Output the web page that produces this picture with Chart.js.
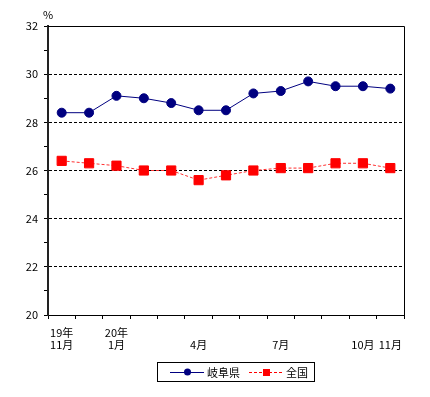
<!DOCTYPE html>
<html>
<head>
<meta charset="utf-8">
<title>岐阜県・全国</title>
<style>
    html, body {
        margin: 0;
        padding: 0;
        background: #fff;
    }
    #wrap {
        width: 430px;
        height: 397px;
        position: relative;
    }
</style>
<script src="https://cdn.jsdelivr.net/npm/chart.js"></script>
</head>
<body>
<div id="wrap"><canvas id="rateChart"></canvas></div>

<script>
    // data
    const months = [['19年', '11月'], '', ['20年', '1月'], '', '', ['', '4月'], '', '', ['', '7月'], '', '', ['', '10月'], ['', '11月']];
    const gifu = [28.4, 28.4, 29.1, 29.0, 28.8, 28.5, 28.5, 29.2, 29.3, 29.7, 29.5, 29.5, 29.4];
    const zenkoku = [26.4, 26.3, 26.2, 26.0, 26.0, 25.6, 25.8, 26.0, 26.1, 26.1, 26.3, 26.3, 26.1];
    const seriesNames = ['岐阜県', '全国'];
    const unitLabel = '%';
    const yMin = 20, yMax = 32;

    const FONT = '"Noto Sans CJK JP", "DejaVu Sans", sans-serif';
    Chart.defaults.font.family = FONT;
    Chart.defaults.font.size = 11;
    Chart.defaults.color = '#000';

    // top/right frame, unit label and the boxed legend
    const decor = {
        id: 'decor',
        afterDraw(chart) {
            const ctx = chart.ctx;
            const a = chart.chartArea;
            ctx.save();
            ctx.strokeStyle = '#000';
            ctx.lineWidth = 1;
            ctx.beginPath();
            ctx.moveTo(a.left, a.top + 0.5);
            ctx.lineTo(a.right + 0.5, a.top + 0.5);
            ctx.lineTo(a.right + 0.5, a.bottom);
            ctx.stroke();

            ctx.font = '11px ' + FONT;
            ctx.fillStyle = '#000';
            ctx.textAlign = 'center';
            ctx.textBaseline = 'middle';
            ctx.fillText(unitLabel, 48, 15);

            // legend
            ctx.strokeRect(157.5, 362.5, 157, 19);
            const cy = 372;
            // 岐阜県
            ctx.strokeStyle = '#000080';
            ctx.beginPath();
            ctx.moveTo(170, cy + 0.5);
            ctx.lineTo(204, cy + 0.5);
            ctx.stroke();
            ctx.fillStyle = '#000080';
            ctx.beginPath();
            ctx.arc(187.5, cy, 3.5, 0, Math.PI * 2);
            ctx.fill();
            // 全国
            ctx.strokeStyle = '#ff0000';
            ctx.setLineDash([3, 2]);
            ctx.beginPath();
            ctx.moveTo(249, cy + 0.5);
            ctx.lineTo(284, cy + 0.5);
            ctx.stroke();
            ctx.setLineDash([]);
            ctx.fillStyle = '#ff0000';
            ctx.fillRect(263, cy - 3, 7, 7);

            ctx.fillStyle = '#000';
            ctx.textAlign = 'left';
            ctx.fillText(seriesNames[0], 207, cy + 1);
            ctx.fillText(seriesNames[1], 286, cy + 1);
            ctx.restore();
        }
    };

    const ctx = document.getElementById('rateChart').getContext('2d');
    const rateChart = new Chart(ctx, {
        type: 'line',
        data: {
            labels: months,
            datasets: [{
                label: seriesNames[0],
                data: gifu,
                borderColor: '#000080',
                borderWidth: 1,
                backgroundColor: '#000080',
                pointBackgroundColor: '#000080',
                pointBorderColor: '#000080',
                pointRadius: 4.5,
                pointBorderWidth: 1,
                tension: 0
            }, {
                label: seriesNames[1],
                data: zenkoku,
                borderColor: '#ff3030',
                borderWidth: 1,
                borderDash: [3, 2],
                backgroundColor: '#ff0000',
                pointStyle: 'rect',
                pointBackgroundColor: '#ff0000',
                pointBorderColor: '#ff0000',
                pointRadius: 6.5,
                pointBorderWidth: 1,
                tension: 0
            }]
        },
        options: {
            responsive: true,
            maintainAspectRatio: false,
            animation: false,
            layout: {
                padding: { top: 26, right: 26, bottom: 0, left: 0 }
            },
            plugins: {
                legend: { display: false },
                tooltip: { enabled: false }
            },
            scales: {
                x: {
                    offset: true,
                    afterFit: scale => { scale.height = 82; },
                    grid: {
                        offset: true,
                        drawOnChartArea: false,
                        drawTicks: true,
                        tickLength: 4,
                        color: '#000'
                    },
                    border: { color: '#000', width: 1 },
                    ticks: {
                        autoSkip: false,
                        maxRotation: 0,
                        padding: 8,
                        font: { size: 11, lineHeight: 1.1 }
                    }
                },
                y: {
                    min: yMin,
                    max: yMax,
                    afterFit: scale => { scale.width = 48; },
                    grid: {
                        color: c => (c.tick && c.tick.value % 2 === 0 && c.tick.value > yMin && c.tick.value < yMax) ? '#000' : 'rgba(0,0,0,0)',
                        tickColor: '#000',
                        tickWidth: 1,
                        tickLength: 4
                    },
                    border: { color: '#222', width: 2, dash: [3, 2] },
                    ticks: {
                        stepSize: 1,
                        padding: 6,
                        callback: v => (v % 2 === 0 ? v : '')
                    }
                }
            }
        },
        plugins: [decor]
    });
</script>
</body>
</html>
